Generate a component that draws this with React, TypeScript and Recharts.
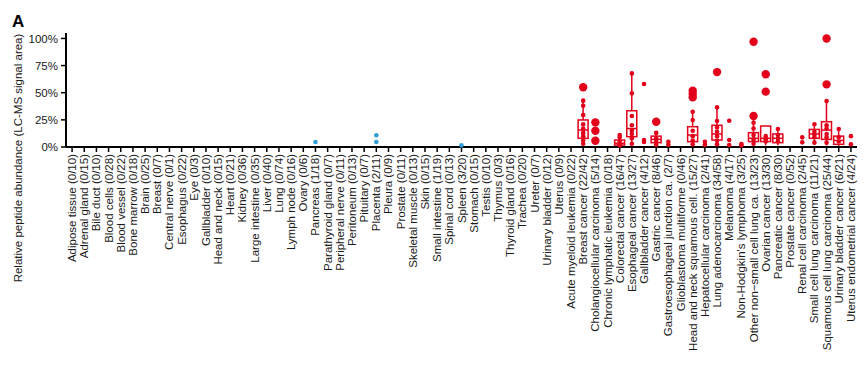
import {
  Bar,
  ComposedChart,
  Scatter,
  XAxis,
  YAxis,
} from "recharts";

// tissue / tumour categories, left to right
const categories = [
  "Adipose tissue", "Adrenal gland", "Bile duct", "Blood cells", "Blood vessel",
  "Bone marrow", "Brain", "Breast", "Central nerve", "Esophagus", "Eye",
  "Gallbladder", "Head and neck", "Heart", "Kidney", "Large intestine", "Liver",
  "Lung", "Lymph node", "Ovary", "Pancreas", "Parathyroid gland",
  "Peripheral nerve", "Peritoneum", "Pituitary", "Placenta", "Pleura",
  "Prostate", "Skeletal muscle", "Skin", "Small intestine", "Spinal cord",
  "Spleen", "Stomach", "Testis", "Thymus", "Thyroid gland", "Trachea", "Ureter",
  "Urinary bladder", "Uterus", "Acute myeloid leukemia", "Breast cancer",
  "Cholangiocellular carcinoma", "Chronic lymphatic leukemia",
  "Colorectal cancer", "Esophageal cancer", "Gallbladder cancer",
  "Gastric cancer", "Gastroesophageal junction ca.", "Glioblastoma multiforme",
  "Head and neck squamous cell.", "Hepatocellular carcinoma",
  "Lung adenocarcinoma", "Melanoma", "Non-Hodgkin's lymphoma",
  "Other non\u2212small cell lung ca.", "Ovarian cancer", "Pancreatic cancer",
  "Prostate cancer", "Renal cell carcinoma", "Small cell lung carcinoma",
  "Squamous cell lung carcinoma", "Urinary bladder cancer",
  "Uterus endometrial cancer",
];

const counts = [
  "0/10", "0/15", "0/10", "0/28", "0/22", "0/18", "0/25", "0/7", "0/1", "0/22",
  "0/3", "0/10", "0/15", "0/21", "0/36", "0/35", "0/40", "0/74", "0/16", "0/6",
  "1/18", "0/7", "0/11", "0/13", "0/7", "2/11", "0/9", "0/11", "0/13", "0/15",
  "1/19", "0/13", "3/20", "0/15", "0/10", "0/3", "0/16", "0/20", "0/7", "0/12",
  "0/9", "0/22", "22/42", "5/14", "0/18", "16/47", "13/27", "4/12", "8/46",
  "2/7", "0/46", "15/27", "2/41", "34/58", "4/17", "3/25", "13/23", "13/30",
  "8/30", "0/52", "2/45", "11/21", "25/44", "6/21", "4/24",
];

const yTicks = [0, 25, 50, 75, 100];

// boxes: category, whisker low, q1, median, q3, whisker high (%)
const boxCats = [
  "Breast cancer", "Colorectal cancer", "Esophageal cancer", "Gastric cancer",
  "Head and neck squamous cell.", "Lung adenocarcinoma",
  "Other non\u2212small cell lung ca.", "Ovarian cancer", "Pancreatic cancer",
  "Small cell lung carcinoma", "Squamous cell lung carcinoma",
  "Urinary bladder cancer",
];
const boxLow = [2, 1, 3, 2, 2, 1.5, 2, 1.5, 1.5, 5, 1.5, 1];
const boxQ1 = [8, 1.8, 9.5, 4, 4.9, 6.4, 5, 5, 4, 8, 7, 2.5];
const boxMedian = [15.6, 3.5, 17, 7, 11, 12, 8, 8, 8, 12, 15.6, 6];
const boxQ3 = [24.9, 6.4, 33.4, 10, 18.7, 20, 13.2, 19.3, 12, 16.2, 23.3, 10];
const boxHigh = [42.7, 11, 67.8, 13, 32.5, 36.5, 28.5, 19.3, 16.6, 21, 42.3, 16.6];

// positive samples: [category, abundance %]
const redLarge: [string, number][] = [
  ["Breast cancer", 55],
  ["Cholangiocellular carcinoma", 22.7],
  ["Cholangiocellular carcinoma", 15],
  ["Cholangiocellular carcinoma", 5.8],
  ["Gastric cancer", 23.3],
  ["Head and neck squamous cell.", 51.8],
  ["Head and neck squamous cell.", 48.8],
  ["Head and neck squamous cell.", 45.7],
  ["Lung adenocarcinoma", 69],
  ["Other non\u2212small cell lung ca.", 97],
  ["Other non\u2212small cell lung ca.", 28.5],
  ["Ovarian cancer", 67],
  ["Ovarian cancer", 51],
  ["Squamous cell lung carcinoma", 100],
  ["Squamous cell lung carcinoma", 57.7],
];

const redSmall: [string, number][] = [
  ["Breast cancer", 42.7], ["Breast cancer", 38], ["Breast cancer", 29.5],
  ["Breast cancer", 21], ["Breast cancer", 17], ["Breast cancer", 13],
  ["Breast cancer", 10], ["Breast cancer", 6], ["Breast cancer", 3],
  ["Cholangiocellular carcinoma", 14],
  ["Colorectal cancer", 11], ["Colorectal cancer", 9], ["Colorectal cancer", 5],
  ["Colorectal cancer", 2.5], ["Colorectal cancer", 1.5],
  ["Esophageal cancer", 67.8], ["Esophageal cancer", 49.4],
  ["Esophageal cancer", 28.5], ["Esophageal cancer", 20],
  ["Esophageal cancer", 15], ["Esophageal cancer", 12],
  ["Esophageal cancer", 8], ["Esophageal cancer", 3],
  ["Gallbladder cancer", 58], ["Gallbladder cancer", 6.4],
  ["Gallbladder cancer", 4.6],
  ["Gastric cancer", 13], ["Gastric cancer", 8], ["Gastric cancer", 5],
  ["Gastric cancer", 2],
  ["Gastroesophageal junction ca.", 4.9], ["Gastroesophageal junction ca.", 2],
  ["Head and neck squamous cell.", 32.5], ["Head and neck squamous cell.", 24.9],
  ["Head and neck squamous cell.", 15], ["Head and neck squamous cell.", 10],
  ["Head and neck squamous cell.", 6], ["Head and neck squamous cell.", 2.5],
  ["Hepatocellular carcinoma", 4.9], ["Hepatocellular carcinoma", 2],
  ["Lung adenocarcinoma", 36.5], ["Lung adenocarcinoma", 24],
  ["Lung adenocarcinoma", 18], ["Lung adenocarcinoma", 14],
  ["Lung adenocarcinoma", 10], ["Lung adenocarcinoma", 6],
  ["Lung adenocarcinoma", 2.5],
  ["Melanoma", 24.2], ["Melanoma", 6.4], ["Melanoma", 1.8],
  ["Non-Hodgkin's lymphoma", 2.8], ["Non-Hodgkin's lymphoma", 1.5],
  ["Other non\u2212small cell lung ca.", 22.4],
  ["Other non\u2212small cell lung ca.", 17],
  ["Other non\u2212small cell lung ca.", 11],
  ["Other non\u2212small cell lung ca.", 7],
  ["Other non\u2212small cell lung ca.", 3],
  ["Ovarian cancer", 10], ["Ovarian cancer", 7], ["Ovarian cancer", 5],
  ["Pancreatic cancer", 16.6], ["Pancreatic cancer", 11],
  ["Pancreatic cancer", 8], ["Pancreatic cancer", 5],
  ["Renal cell carcinoma", 8.9], ["Renal cell carcinoma", 4.3],
  ["Small cell lung carcinoma", 21], ["Small cell lung carcinoma", 14],
  ["Small cell lung carcinoma", 11], ["Small cell lung carcinoma", 9],
  ["Small cell lung carcinoma", 4],
  ["Squamous cell lung carcinoma", 42.3], ["Squamous cell lung carcinoma", 20],
  ["Squamous cell lung carcinoma", 17], ["Squamous cell lung carcinoma", 12],
  ["Squamous cell lung carcinoma", 9], ["Squamous cell lung carcinoma", 4],
  ["Urinary bladder cancer", 16.6], ["Urinary bladder cancer", 9],
  ["Urinary bladder cancer", 5],
  ["Uterus endometrial cancer", 10], ["Uterus endometrial cancer", 2.5],
];

const bluePts: [string, number][] = [
  ["Pancreas", 4.6],
  ["Placenta", 10.8],
  ["Placenta", 4.6],
  ["Spleen", 1.5],
];

const RED = "#e2001a";
const BLUE = "#2f9fd8";
const FONT = "'Liberation Sans', Arial, sans-serif";

const idx = (name: string) => categories.indexOf(name);
const toPoints = (list: [string, number][]) =>
  list.map(([c, v]) => ({ x: idx(c), y: v }));

const boxData = boxCats.map((c, i) => ({
  x: idx(c),
  lo: boxLow[i],
  q1: boxQ1[i],
  med: boxMedian[i],
  q3: boxQ3[i],
  hi: boxHigh[i],
}));

const BoxShape = (props: any) => {
  const { x, y, width, height, payload } = props;
  if (width == null || height == null) return null;
  const ppu = height / (payload.q3 - payload.q1 || 1);
  const cx = x + width / 2;
  const medY = y + (payload.q3 - payload.med) * ppu;
  const hiY = y - (payload.hi - payload.q3) * ppu;
  const loY = y + height + (payload.q1 - payload.lo) * ppu;
  return (
    <g stroke={RED} strokeWidth={1.5} fill="none">
      <line x1={cx} x2={cx} y1={hiY} y2={y} />
      <line x1={cx} x2={cx} y1={y + height} y2={loY} />
      <rect x={x} y={y} width={width} height={height} />
      <line x1={x} x2={x + width} y1={medY} y2={medY} />
    </g>
  );
};

const dot = (r: number, color: string) => (p: any) =>
  <circle cx={p.cx} cy={p.cy} r={r} fill={color} />;

const XTick = (props: any) => {
  const { x, y, payload } = props;
  const i = payload.value;
  return (
    <text
      transform={`translate(${x + 4},${y}) rotate(-90)`}
      textAnchor="end"
      fontSize={11.5}
      fontFamily={FONT}
      fill="#1a1a1a"
    >
      {`${categories[i]} (${counts[i]})`}
    </text>
  );
};

export default function App() {
  const xTicks = categories.map((_, i) => i);
  return (
    <div style={{ position: "absolute", left: 0, top: 0, background: "#fff" }}>
      <ComposedChart
        width={865}
        height={366}
        data={boxData}
        margin={{ top: 33, right: 8, left: 10, bottom: 19 }}
      >
        <text x={12} y={27} fontSize={17} fontWeight="bold" fontFamily={FONT}>
          A
        </text>
        <text
          transform="translate(22,158) rotate(-90)"
          textAnchor="middle"
          fontSize={11.5}
          fontFamily={FONT}
          fill="#1a1a1a"
        >
          Relative peptide abundance (LC-MS signal area)
        </text>
        <XAxis
          type="number"
          dataKey="x"
          domain={[-0.5, 64.5]}
          ticks={xTicks}
          interval={0}
          height={200}
          tick={<XTick />}
          tickSize={5}
          tickLine={{ stroke: "#000", strokeWidth: 1.5 }}
          axisLine={{ stroke: "#000", strokeWidth: 2 }}
        />
        <YAxis
          type="number"
          domain={[0, 105]}
          ticks={yTicks}
          width={56}
          tickSize={5}
          tickMargin={3}
          tickFormatter={(v: number) => `${v}%`}
          tick={{ fontSize: 11.5, fill: "#1a1a1a", fontFamily: FONT }}
          tickLine={{ stroke: "#000", strokeWidth: 1.5 }}
          axisLine={{ stroke: "#000", strokeWidth: 2 }}
        />
        <Bar
          dataKey={(d: any) => [d.q1, d.q3]}
          barSize={10}
          shape={<BoxShape />}
          isAnimationActive={false}
        />
        <Scatter
          data={toPoints(redSmall)}
          dataKey="y"
          shape={dot(2.3, RED)}
          isAnimationActive={false}
        />
        <Scatter
          data={toPoints(redLarge)}
          dataKey="y"
          shape={dot(4.2, RED)}
          isAnimationActive={false}
        />
        <Scatter
          data={toPoints(bluePts)}
          dataKey="y"
          shape={dot(2.3, BLUE)}
          isAnimationActive={false}
        />
      </ComposedChart>
    </div>
  );
}
